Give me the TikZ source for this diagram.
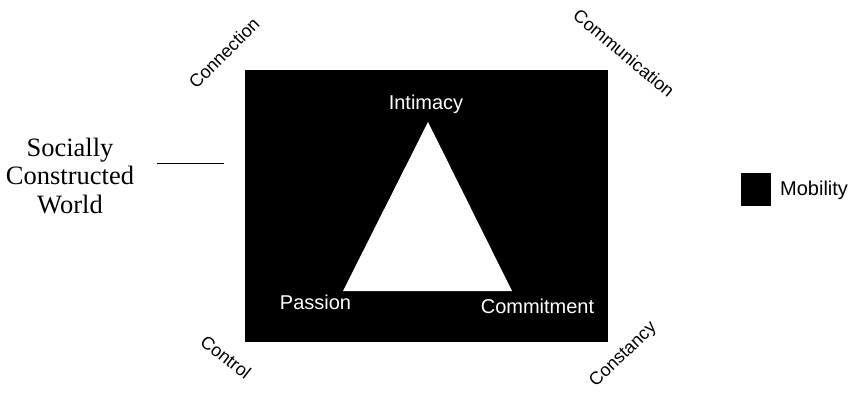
\documentclass[tikz,border=0pt]{standalone}
\usepackage{fontspec}
\setmainfont{Liberation Sans}
\newfontfamily\timesface{Liberation Serif}
\tikzset{
  inlabel/.style={text=white, inner sep=0, font=\fontsize{20}{24}\selectfont},
  cornerlabel/.style={inner sep=0, font=\fontsize{18}{22}\selectfont},
}
\begin{document}
\begin{tikzpicture}[x=1pt, y=-1pt]
\useasboundingbox (0,0) rectangle (851,394);
\fill (245,70) rectangle (608,342);
\coordinate (apex) at (428,122);
\coordinate (left) at (343,291);
\coordinate (right) at (512,291);
\fill[white] (apex)--(left)--(right)--cycle;
\node[inlabel, anchor=base] (intimacy) at (426,109) {Intimacy};
\node[inlabel, anchor=base] (passion) at (315.5,309) {Passion};
\node[inlabel, anchor=base] (commitment) at (537.5,313) {Commitment};

\node[cornerlabel, rotate=45] (connection) at (224,53) {Connection};
\node[cornerlabel, rotate=-40] (communication) at (624,53) {Communication};
\node[cornerlabel, rotate=-38] (control) at (226,357) {Control};
\node[cornerlabel, rotate=44] (constancy) at (623.5,355) {Constancy};

\node[align=center, inner sep=0, font=\timesface\fontsize{26.5}{28.5}\selectfont] (world) at (70,176) {Socially\\Constructed\\World};
\coordinate (tickL) at (157,163);
\coordinate (tickR) at (224,163);
\draw[thin] (tickL)--(tickR);

\node[fill, minimum width=30, minimum height=33, inner sep=0] (key) at (756,189.5) {};
\node[anchor=base west, inner sep=0, font=\fontsize{20}{24}\selectfont] (mobility) at (780,195) {Mobility};
\end{tikzpicture}
\end{document}
